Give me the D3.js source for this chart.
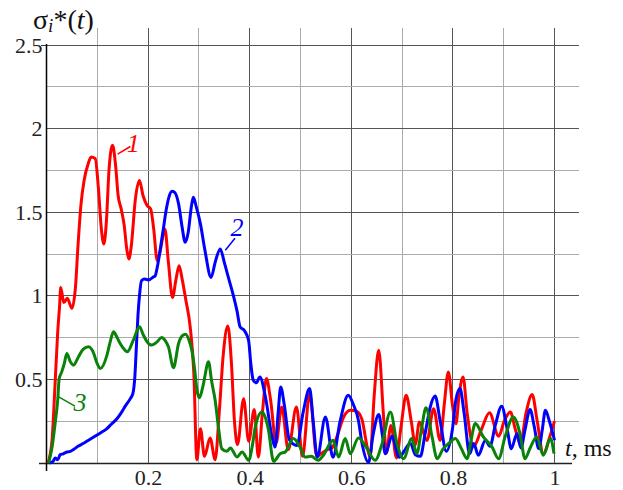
<!DOCTYPE html>
<html>
<head>
<meta charset="utf-8">
<script src="https://cdn.jsdelivr.net/npm/d3@7/dist/d3.min.js"></script>
<style>
  html, body { margin: 0; padding: 0; background: #fff; }
  svg { display: block; }
</style>
</head>
<body>
<svg id="chart" width="623" height="490" font-family="Liberation Serif"></svg>
<script>
const SERIF = "Liberation Serif";

// Time axis, ms
const xTicks = [0.2, 0.4, 0.6, 0.8, 1];
const yTicks = [0.5, 1, 1.5, 2, 2.5];

// Curve 1 (red): [t, σ*]
const series1 = [
  [0.003,0],[0.011,0.14],[0.017,0.48],[0.022,0.78],[0.026,0.95],[0.028,1.05],[0.034,0.96],[0.041,0.985],
  [0.050,0.925],[0.057,1.05],[0.062,1.3],[0.068,1.55],[0.074,1.69],[0.082,1.79],[0.088,1.83],[0.096,1.82],
  [0.102,1.65],[0.108,1.4],[0.113,1.31],[0.118,1.45],[0.123,1.75],[0.130,1.90],[0.136,1.78],[0.141,1.6],
  [0.147,1.52],[0.153,1.42],[0.158,1.28],[0.162,1.22],[0.167,1.3],[0.175,1.58],[0.183,1.69],[0.190,1.6],
  [0.198,1.54],[0.205,1.52],[0.211,1.4],[0.218,1.21],[0.224,1.27],[0.233,1.40],[0.240,1.2],[0.248,0.99],
  [0.255,1.1],[0.261,1.18],[0.267,1.1],[0.274,0.98],[0.283,0.81],[0.290,0.54],[0.296,0.02],[0.303,0.205],
  [0.311,0.04],[0.322,0.15],[0.332,0.02],[0.340,0.3],[0.348,0.65],[0.357,0.82],[0.364,0.6],[0.370,0.25],
  [0.376,0.11],[0.388,0.385],[0.398,0.13],[0.409,0.32],[0.417,0.035],[0.425,0.3],[0.433,0.505],[0.441,0.38],
  [0.452,0.12],[0.463,0.335],[0.476,0.08],[0.492,0.335],[0.504,0.04],[0.518,0.415],[0.532,0.04],[0.542,0.06],
  [0.553,0.08],[0.562,0.09],[0.572,0.16],[0.585,0.275],[0.598,0.315],[0.610,0.31],[0.621,0.26],[0.631,0.1],
  [0.637,0.035],[0.645,0.4],[0.654,0.675],[0.663,0.3],[0.669,0.06],[0.678,0.225],[0.689,0.03],[0.698,0.22],
  [0.708,0.405],[0.718,0.25],[0.726,0.11],[0.734,0.245],[0.749,0.135],[0.762,0.325],[0.775,0.135],[0.783,0.35],
  [0.791,0.545],[0.799,0.35],[0.806,0.235],[0.812,0.4],[0.820,0.515],[0.828,0.3],[0.841,0.1],[0.856,0.2],
  [0.872,0.3],[0.890,0.16],[0.901,0.25],[0.913,0.305],[0.923,0.2],[0.933,0.115],[0.944,0.3],[0.956,0.41],
  [0.966,0.25],[0.978,0.055],[0.990,0.15],[1.0,0.25]
];

// Curve 2 (blue)
const series2 = [
  [0.005,0],[0.013,0.01],[0.017,0.03],[0.022,0.02],[0.027,0.05],[0.033,0.055],[0.040,0.066],[0.047,0.07],
  [0.053,0.08],[0.062,0.1],[0.073,0.118],[0.082,0.135],[0.093,0.156],[0.106,0.18],[0.119,0.206],[0.127,0.23],
  [0.139,0.266],[0.147,0.3],[0.155,0.34],[0.165,0.385],[0.170,0.415],[0.174,0.52],[0.177,0.7],[0.180,0.88],
  [0.183,1.0],[0.187,1.09],[0.193,1.1],[0.201,1.095],[0.209,1.11],[0.214,1.12],[0.218,1.17],[0.225,1.3],
  [0.230,1.4],[0.236,1.52],[0.241,1.59],[0.247,1.625],[0.252,1.62],[0.260,1.55],[0.267,1.41],[0.273,1.32],
  [0.279,1.38],[0.285,1.53],[0.289,1.59],[0.295,1.53],[0.303,1.43],[0.312,1.27],[0.324,1.11],[0.332,1.2],
  [0.342,1.28],[0.350,1.2],[0.358,1.11],[0.368,1.0],[0.375,0.91],[0.381,0.815],[0.390,0.79],[0.398,0.73],
  [0.402,0.6],[0.407,0.495],[0.413,0.48],[0.420,0.515],[0.431,0.395],[0.444,0.156],[0.450,0.095],[0.456,0.3],
  [0.461,0.455],[0.468,0.35],[0.478,0.14],[0.493,0.105],[0.505,0.3],[0.518,0.445],[0.525,0.25],[0.533,0.035],
  [0.549,0.275],[0.564,0.035],[0.578,0.25],[0.594,0.405],[0.604,0.35],[0.614,0.256],[0.621,0.12],[0.634,0.005],
  [0.643,0.17],[0.654,0.29],[0.661,0.17],[0.667,0.055],[0.680,0.16],[0.694,0.035],[0.706,0.08],[0.716,0.12],
  [0.726,0.05],[0.736,0.04],[0.745,0.17],[0.755,0.33],[0.765,0.4],[0.775,0.25],[0.787,0.07],[0.799,0.2],
  [0.806,0.38],[0.814,0.445],[0.822,0.3],[0.833,0.055],[0.841,0.116],[0.850,0.046],[0.864,0.136],[0.873,0.1],
  [0.883,0.22],[0.896,0.34],[0.907,0.2],[0.915,0.085],[0.926,0.175],[0.934,0.09],[0.942,0.2],[0.952,0.32],
  [0.960,0.22],[0.969,0.086],[0.976,0.2],[0.982,0.315],[0.990,0.25],[1.0,0.136]
];

// Curve 3 (green)
const series3 = [
  [0.004,0],[0.011,0.096],[0.017,0.238],[0.022,0.375],[0.025,0.505],[0.030,0.545],[0.035,0.595],[0.040,0.655],
  [0.047,0.605],[0.053,0.585],[0.063,0.635],[0.072,0.68],[0.083,0.695],[0.093,0.655],[0.099,0.6],[0.106,0.565],
  [0.119,0.645],[0.125,0.72],[0.132,0.785],[0.139,0.75],[0.145,0.715],[0.153,0.68],[0.159,0.665],[0.171,0.735],
  [0.183,0.815],[0.190,0.77],[0.198,0.725],[0.207,0.705],[0.216,0.72],[0.227,0.75],[0.234,0.73],[0.240,0.695],
  [0.250,0.57],[0.260,0.715],[0.267,0.76],[0.274,0.77],[0.281,0.73],[0.286,0.675],[0.292,0.55],[0.296,0.44],
  [0.301,0.39],[0.308,0.46],[0.319,0.605],[0.325,0.49],[0.332,0.375],[0.339,0.2],[0.345,0.086],[0.355,0.07],
  [0.362,0.09],[0.375,0.036],[0.385,0.066],[0.398,0.016],[0.405,0.1],[0.411,0.215],[0.424,0.305],[0.431,0.27],
  [0.437,0.196],[0.447,0.01],[0.460,0.056],[0.470,0.066],[0.486,0.146],[0.499,0.096],[0.509,0.036],[0.521,0.04],
  [0.535,0.016],[0.545,0.046],[0.564,0.136],[0.575,0.036],[0.588,0.146],[0.598,0.056],[0.614,0.15],[0.631,0.086],
  [0.647,0.016],[0.661,0.12],[0.677,0.305],[0.690,0.116],[0.703,0.026],[0.719,0.146],[0.729,0.056],[0.738,0.2],
  [0.747,0.33],[0.759,0.156],[0.769,0.026],[0.781,0.086],[0.793,0.12],[0.805,0.146],[0.816,0.09],[0.828,0.026],
  [0.836,0.14],[0.844,0.236],[0.860,0.156],[0.877,0.096],[0.890,0.026],[0.903,0.16],[0.919,0.275],[0.932,0.176],
  [0.942,0.026],[0.952,0.09],[0.965,0.156],[0.978,0.046],[0.992,0.146],[0.999,0.056]
];

const curves = [
  { name: "1", data: series1, color: "#ff0000" },
  { name: "2", data: series2, color: "#0000ff" },
  { name: "3", data: series3, color: "#0a820a" }
];

// Curve number annotations: text anchor and leader line ends, in data units
const labelNames = ["1", "2", "3"];
const labelText  = [[0.158, 1.86], [0.362, 1.357], [0.053, 0.31]];
const labelLine  = [[[0.140, 1.847], [0.165, 1.893]], [[0.352, 1.272], [0.371, 1.344]], [[0.024, 0.395], [0.056, 0.34]]];

const svg = d3.select("#chart");
const X0 = 46.5, X1 = 554.5, Y0 = 463, Y1 = 45;

const x = d3.scaleLinear().domain([0, 1]).range([X0, X1]);
const y = d3.scaleLinear().domain([0, 2.5]).range([Y0, Y1]);

const snap = v => Math.round(v - 0.5) + 0.5;

// grid: major lines every 0.2 ms / 0.5, minor in between
const grid = svg.append("g");
const xGrid = d3.range(1, 11).map(i => i / 10);
const yGrid = d3.range(1, 11).map(i => i / 4);
grid.selectAll("line.v").data(xGrid).join("line")
  .attr("x1", d => snap(x(d))).attr("x2", d => snap(x(d)))
  .attr("y1", 28).attr("y2", Y0)
  .attr("stroke", (d, i) => (i % 2 === 1) ? "#555" : "#ababab")
  .attr("stroke-width", 1);
grid.selectAll("line.h").data(yGrid).join("line")
  .attr("x1", X0).attr("x2", 579)
  .attr("y1", d => snap(y(d))).attr("y2", d => snap(y(d)))
  .attr("stroke", (d, i) => (i % 2 === 1) ? "#555" : "#ababab")
  .attr("stroke-width", 1);

// axis lines
svg.append("line").attr("x1", 39).attr("x2", 572).attr("y1", snap(Y0)).attr("y2", snap(Y0))
  .attr("stroke", "#222").attr("stroke-width", 1.5);
svg.append("line").attr("x1", X0).attr("x2", X0).attr("y1", 44).attr("y2", 471)
  .attr("stroke", "#000").attr("stroke-width", 1.5);
svg.append("line").attr("x1", 41).attr("x2", X0).attr("y1", snap(y(2.5))).attr("y2", snap(y(2.5)))
  .attr("stroke", "#333").attr("stroke-width", 1);

// tick labels via axes
const fmt = d3.format("");
const xAxis = d3.axisBottom(x).tickValues(xTicks).tickSize(0).tickPadding(6).tickFormat(fmt);
const gx = svg.append("g").attr("transform", `translate(0,${Y0})`).call(xAxis)
  .attr("font-family", SERIF).attr("font-size", 22);
gx.select(".domain").remove();
gx.selectAll("text").attr("fill", "#222").attr("font-family", SERIF).attr("font-size", 22);

const yAxis = d3.axisLeft(y).tickValues(yTicks).tickSize(0).tickPadding(4).tickFormat(fmt);
const gy = svg.append("g").attr("transform", `translate(${X0},0)`).call(yAxis)
  .attr("font-family", SERIF).attr("font-size", 22);
gy.select(".domain").remove();
gy.selectAll("text").attr("fill", "#222").attr("font-family", SERIF).attr("font-size", 22);

// curves
const line = d3.line().x(d => x(d[0])).y(d => y(d[1])).curve(d3.curveMonotoneX);
svg.append("g").selectAll("path").data(curves).join("path")
  .attr("d", d => line(d.data))
  .attr("fill", "none")
  .attr("stroke", d => d.color)
  .attr("stroke-width", 3)
  .attr("stroke-linejoin", "round");

// curve number labels with leader lines
labelNames.forEach((n, i) => {
  const color = curves[i].color;
  const [[a, b], [c, e]] = labelLine[i];
  svg.append("line")
    .attr("x1", x(a)).attr("y1", y(b)).attr("x2", x(c)).attr("y2", y(e))
    .attr("stroke", color).attr("stroke-width", 1.5);
  svg.append("text")
    .attr("x", x(labelText[i][0])).attr("y", y(labelText[i][1]))
    .attr("font-family", SERIF).attr("font-size", 26).attr("font-style", "italic")
    .attr("fill", color).text(n);
});

// axis titles
const yt = svg.append("text").attr("x", 33).attr("y", 29)
  .attr("font-family", SERIF).attr("font-size", 28).attr("fill", "#111");
yt.append("tspan").text("σ");
yt.append("tspan").attr("font-style", "italic").attr("font-size", 19).attr("dy", 3).text("i");
yt.append("tspan").attr("dy", -3).text("*(");
yt.append("tspan").attr("font-style", "italic").text("t");
yt.append("tspan").text(")");

const xt = svg.append("text").attr("x", 565).attr("y", 456)
  .attr("font-family", SERIF).attr("font-size", 24).attr("fill", "#111");
xt.append("tspan").attr("font-style", "italic").text("t");
xt.append("tspan").text(", ms");
</script>
</body>
</html>
